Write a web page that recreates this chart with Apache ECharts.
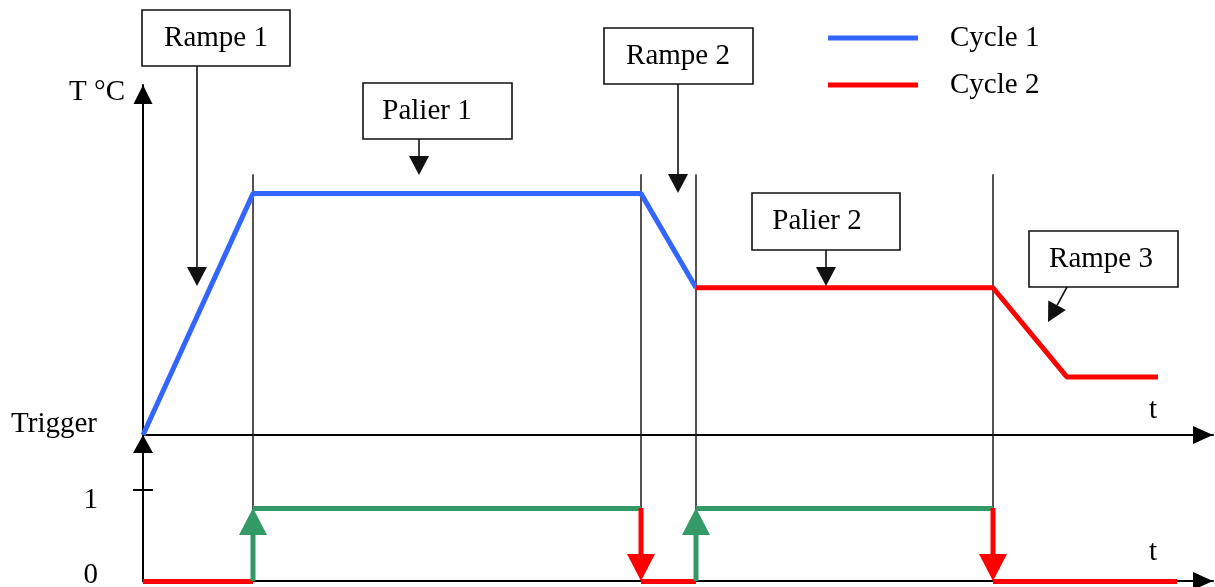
<!DOCTYPE html>
<html><head><meta charset="utf-8">
<script src="https://cdn.jsdelivr.net/npm/echarts@6/dist/echarts.min.js"></script>
<style>html,body{margin:0;padding:0;background:#fff}#c{width:1215px;height:587px}</style>
</head><body><div id="c"></div>
<script>
// ---------------- data ----------------
const seriesNames = ['Cycle 1', 'Cycle 2'];
const cycle1Points = [[0, 0], [11, 100], [49.8, 100], [55.3, 61]];
const cycle2Points = [[55.3, 61], [85, 61], [92.4, 24], [101.5, 24]];
const eventTimes = [11, 49.8, 55.3, 85];
const eventLineTopT = 108;
const triggerLowSegments = [[0, 11], [49.8, 55.3], [85, 103.4]];
const triggerHighSegments = [[11, 49.8], [55.3, 85]];
const triggerHigh = 0.8;
const triggerEdges = [[11, 0, 0.8], [49.8, 0.8, 0], [55.3, 0, 0.8], [85, 0.8, 0]];
const triggerTickValues = [1];
const triggerLabelValues = [0, 1];
const phaseLabels = ['Rampe 1', 'Palier 1', 'Rampe 2', 'Palier 2', 'Rampe 3'];
const axisNames = { temp: 'T °C', trigger: 'Trigger', time: 't' };

// ---------------- styles / layout ----------------
const FONT = '"Liberation Serif", "Times New Roman", serif';
const FS = 29;
const BLUE = '#3366FF', RED = '#FF0000', GREEN = '#339966';
const calloutLayout = [
  { box: [142, 10, 148, 56], text: [216, 38], arrow: [[197, 66], [197, 286]] },
  { box: [363, 83, 149, 56], text: [427, 111], arrow: [[419, 139], [419, 175]] },
  { box: [604, 28, 149, 56], text: [678, 56], arrow: [[678, 84], [678, 193]] },
  { box: [752, 193, 148, 57], text: [817, 221], arrow: [[826, 250], [826, 286]] },
  { box: [1029, 231, 149, 56], text: [1101, 259], arrow: [[1067, 287], [1048, 322]] }
];

function arrowElements(from, to, color, lw, L, W) {
  const dx = to[0] - from[0], dy = to[1] - from[1];
  const len = Math.sqrt(dx * dx + dy * dy);
  const ux = dx / len, uy = dy / len;
  const bx = to[0] - ux * L, by = to[1] - uy * L;
  const px = -uy, py = ux;
  return [
    { type: 'line', shape: { x1: from[0], y1: from[1], x2: bx, y2: by }, style: { stroke: color, lineWidth: lw }, z: 100 },
    { type: 'polygon', shape: { points: [to, [bx + px * W / 2, by + py * W / 2], [bx - px * W / 2, by - py * W / 2]] }, style: { fill: color }, z: 100 }
  ];
}

const graphicEls = [];
calloutLayout.forEach((c, i) => {
  graphicEls.push({ type: 'rect', shape: { x: c.box[0], y: c.box[1], width: c.box[2], height: c.box[3] },
    style: { fill: '#fff', stroke: '#111', lineWidth: 1.6 }, z: 100 });
  graphicEls.push({ type: 'text', x: c.text[0], y: c.text[1], z: 101,
    style: { text: phaseLabels[i], fill: '#000', font: FS + 'px ' + FONT, align: 'center', verticalAlign: 'middle' } });
  arrowElements(c.arrow[0], c.arrow[1], '#111', 1.6, 19, 20).forEach(e => graphicEls.push(e));
});

const axisLineBase = (size, off) => ({
  show: true, onZero: false,
  lineStyle: { color: '#000', width: 2 },
  symbol: ['none', 'triangle'], symbolSize: size, symbolOffset: [0, off]
});
const txt = { fontFamily: FONT, fontSize: FS, color: '#000' };

const xAxisBase = (gi, padBottom) => ({
  gridIndex: gi, type: 'value', min: 0, max: 107,
  axisLine: axisLineBase([18, 20], -10),
  axisTick: { show: false }, axisLabel: { show: false }, splitLine: { show: false },
  name: '{a|' + axisNames.time + '}', nameLocation: 'end', nameGap: -60, nameMoveOverlap: false,
  nameTextStyle: Object.assign({ align: 'center', verticalAlign: 'middle',
    rich: { a: Object.assign({ padding: [0, 0, padBottom, 0] }, txt) } }, txt)
});

function vline(topVal) {
  return function (params, api) {
    const t = api.value(0);
    const a = api.coord([t, topVal]);
    const b = api.coord([t, 0]);
    return { type: 'line', shape: { x1: a[0], y1: a[1], x2: b[0], y2: b[1] },
      style: { stroke: '#1a1a1a', lineWidth: 1.5 } };
  };
}

const option = {
  animation: false,
  backgroundColor: '#fff',
  grid: [
    { left: 143, right: 2, top: 85, bottom: 152, outerBoundsMode: 'none', containLabel: false },
    { left: 143, right: 2, top: 435, bottom: 6, outerBoundsMode: 'none', containLabel: false }
  ],
  legend: {
    data: seriesNames, orient: 'vertical', left: 828, top: 23, padding: 0,
    icon: 'rect', itemWidth: 90, itemHeight: 5, itemGap: 17,
    textStyle: Object.assign({ lineHeight: 30, padding: [0, 0, 0, 27] }, txt)
  },
  xAxis: [xAxisBase(0, 50), xAxisBase(1, 58)],
  yAxis: [
    { gridIndex: 0, type: 'value', min: 0, max: 145, position: 'left',
      axisLine: axisLineBase([19, 19], -9.5),
      axisTick: { show: false }, axisLabel: { show: false }, splitLine: { show: false },
      name: axisNames.temp, nameLocation: 'end', nameGap: -7, nameMoveOverlap: false,
      nameTextStyle: Object.assign({ align: 'right', verticalAlign: 'middle', padding: [0, 18, 0, 0] }, txt) },
    { gridIndex: 1, type: 'value', min: 0, max: 1.6, position: 'left',
      axisLine: axisLineBase([20, 18], -9),
      axisTick: { show: true, customValues: triggerTickValues, length: 10, lineStyle: { color: '#000', width: 2 } },
      axisLabel: { show: true, customValues: triggerLabelValues, margin: 45,
        formatter: v => (v === 1 ? '{one|' + v + '}' : '{zero|' + v + '}'),
        rich: {
          one: Object.assign({ padding: [22, 0, 0, 0] }, txt),
          zero: Object.assign({ padding: [0, 0, 11, 0] }, txt)
        } },
      splitLine: { show: false },
      name: axisNames.trigger, nameLocation: 'end', nameGap: 11, nameMoveOverlap: false,
      nameTextStyle: Object.assign({ align: 'right', verticalAlign: 'middle', padding: [0, 46, 0, 0] }, txt) },
    { gridIndex: 1, type: 'value', min: 0, max: 1.6, position: 'left', offset: 0,
      axisLine: { show: false },
      axisTick: { show: true, inside: true, customValues: triggerTickValues, length: 10, lineStyle: { color: '#000', width: 2 } },
      axisLabel: { show: false }, splitLine: { show: false } }
  ],
  series: [
    { type: 'custom', name: 'events-top', xAxisIndex: 0, yAxisIndex: 0, z: 1, silent: true,
      data: eventTimes.map(t => [t]), encode: { x: 0 }, renderItem: vline(eventLineTopT) },
    { type: 'custom', name: 'events-bottom', xAxisIndex: 1, yAxisIndex: 1, z: 1, silent: true,
      data: eventTimes.map(t => [t]), encode: { x: 0 }, renderItem: vline(1.6) },
    { type: 'line', name: seriesNames[0], xAxisIndex: 0, yAxisIndex: 0, data: cycle1Points,
      color: BLUE, showSymbol: false, symbol: 'none', clip: false, z: 5,
      lineStyle: { color: BLUE, width: 5 }, itemStyle: { color: BLUE } },
    { type: 'line', name: seriesNames[1], xAxisIndex: 0, yAxisIndex: 0, data: cycle2Points,
      color: RED, showSymbol: false, symbol: 'none', clip: false, z: 5,
      lineStyle: { color: RED, width: 5 }, itemStyle: { color: RED } },
    { type: 'lines', name: 'trigger-low', coordinateSystem: 'cartesian2d', xAxisIndex: 1, yAxisIndex: 1,
      clip: false, z: 5, silent: true,
      data: triggerLowSegments.map(s => ({ coords: [[s[0], 0], [s[1], 0]] })),
      lineStyle: { color: RED, width: 5, opacity: 1 } },
    { type: 'lines', name: 'trigger-high', coordinateSystem: 'cartesian2d', xAxisIndex: 1, yAxisIndex: 1,
      clip: false, z: 5, silent: true,
      data: triggerHighSegments.map(s => ({ coords: [[s[0], triggerHigh], [s[1], triggerHigh]] })),
      lineStyle: { color: GREEN, width: 5, opacity: 1 } },
    { type: 'custom', name: 'trigger-edges', xAxisIndex: 1, yAxisIndex: 1, z: 6, silent: true,
      data: triggerEdges, encode: { x: 0, y: [1, 2] },
      renderItem: function (params, api) {
        const t = api.value(0), y0 = api.value(1), y1 = api.value(2);
        const p0 = api.coord([t, y0]), p1 = api.coord([t, y1]);
        const color = y1 > y0 ? GREEN : RED;
        const dir = p1[1] > p0[1] ? 1 : -1;
        const L = 27, W = 28;
        const by = p1[1] - dir * L;
        return { type: 'group', children: [
          { type: 'line', shape: { x1: p0[0], y1: p0[1], x2: p0[0], y2: by }, style: { stroke: color, lineWidth: 5 } },
          { type: 'polygon', shape: { points: [[p1[0], p1[1]], [p1[0] - W / 2, by], [p1[0] + W / 2, by]] }, style: { fill: color } }
        ] };
      } }
  ],
  graphic: { elements: graphicEls }
};

const chart = echarts.init(document.getElementById('c'), null, { renderer: 'canvas' });
chart.setOption(option);
</script>
</body></html>
